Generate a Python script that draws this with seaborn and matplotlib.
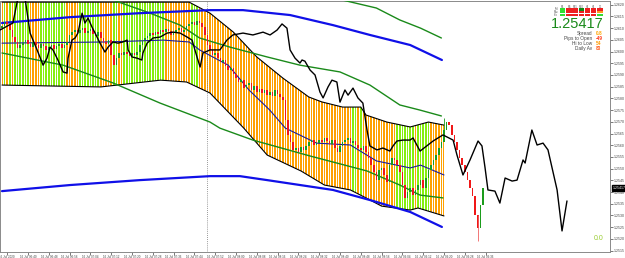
import numpy as np
import pandas as pd
import matplotlib
matplotlib.use("Agg")
import matplotlib.pyplot as plt
import matplotlib.transforms as mtransforms
from matplotlib.patches import Polygon, Rectangle
import seaborn as sns

sns.set_theme(style="white")
plt.rcParams['font.family'] = ['Liberation Sans', 'DejaVu Sans']

# ---------------- data ----------------
first_open = 1.26100
close = [
    1.26109, 1.26126, 1.26118, 1.26092, 1.26062, 1.26041, 1.26015, 1.26028, 1.26036, 1.26049,
    1.26032, 1.26019, 1.26041, 1.26028, 1.26015, 1.26032, 1.26024, 1.26007, 1.26019, 1.26028,
    1.26011, 1.26024, 1.26032, 1.26015, 1.26028, 1.26041, 1.26071, 1.26083, 1.26092, 1.26079,
    1.26092, 1.26100, 1.26079, 1.26088, 1.26096, 1.26075, 1.26066, 1.26083, 1.26058, 1.26041,
    1.26032, 1.26049, 1.25985, 1.25942, 1.25972, 1.25994, 1.25985, 1.25998, 1.25989, 1.25981,
    1.25994, 1.25985, 1.25998, 1.26028, 1.26049, 1.26058, 1.26066, 1.26079, 1.26071, 1.26083,
    1.26075, 1.26092, 1.26083, 1.26096, 1.26088, 1.26071, 1.26079, 1.26092, 1.26100, 1.26083,
    1.26092, 1.26109, 1.26118, 1.26126, 1.26113, 1.26130, 1.26122, 1.26105, 1.26071, 1.26028,
    1.26007, 1.25985, 1.25994, 1.25972, 1.25955, 1.25964, 1.25938, 1.25921, 1.25930, 1.25904,
    1.25887, 1.25870, 1.25878, 1.25844, 1.25857, 1.25866, 1.25836, 1.25853, 1.25827, 1.25840,
    1.25823, 1.25836, 1.25814, 1.25827, 1.25810, 1.25836, 1.25819, 1.25806, 1.25793, 1.25708,
    1.25644, 1.25614, 1.25580, 1.25588, 1.25571, 1.25592, 1.25580, 1.25597, 1.25614, 1.25622,
    1.25601, 1.25609, 1.25622, 1.25614, 1.25631, 1.25618, 1.25605, 1.25622, 1.25588, 1.25571,
    1.25597, 1.25614, 1.25622, 1.25631, 1.25609, 1.25618, 1.25601, 1.25588, 1.25580, 1.25597,
    1.25571, 1.25545, 1.25515, 1.25486, 1.25451, 1.25494, 1.25503, 1.25473, 1.25443, 1.25515,
    1.25545, 1.25537, 1.25515, 1.25486, 1.25430, 1.25375, 1.25400, 1.25417, 1.25387, 1.25409,
    1.25430, 1.25451, 1.25417, 1.25460, 1.25494, 1.25515, 1.25537, 1.25558, 1.25588, 1.25614,
    1.25665, 1.25699, 1.25686, 1.25644, 1.25614, 1.25580, 1.25545, 1.25515, 1.25486, 1.25451,
    1.25417, 1.25383, 1.25302, 1.25246, 1.25345, 1.25417,
]
wick_bar = [170, 183]
wick_high = [1.25716, 1.25302]
wick_low = [1.25665, 1.25191]

band_top_x = [0, 72, 80, 89, 98, 108, 118, 123, 131, 138, 140, 148, 157, 164, 170]
band_top_y = [1.26211, 1.26211, 1.26164, 1.26083, 1.25977, 1.25887, 1.25806, 1.25785,
              1.25763, 1.25763, 1.25729, 1.25699, 1.25678, 1.25699, 1.25686]
band_bot_x = [0, 38, 61, 71, 80, 93, 102, 115, 124, 134, 140, 146, 157, 160, 170]
band_bot_y = [1.25857, 1.25849, 1.25878, 1.25870, 1.25823, 1.25673, 1.25558, 1.25490,
              1.25430, 1.25409, 1.25375, 1.25340, 1.25323, 1.25332, 1.25298]

center_x = [0, 40, 62, 72, 76, 87, 95, 103, 109, 121, 134, 144, 157, 161, 170]
center_y = [1.26036, 1.26041, 1.26049, 1.26041, 1.26007, 1.25942, 1.25836, 1.25750,
            1.25673, 1.25609, 1.25601, 1.25533, 1.25503, 1.25515, 1.25473]

green_hi_x = [122.3, 131, 144, 153, 161, 169]
green_hi_y = [1.26233, 1.26220, 1.26186, 1.26135, 1.26100, 1.26058]
green_mid_x = [38, 42.7, 57, 68.5, 76, 87.7, 102, 114.6, 130, 141.5, 153, 160.8, 169]
green_mid_y = [1.26240, 1.26220, 1.26164, 1.26113, 1.26058, 1.26019, 1.25977, 1.25942,
               1.25913, 1.25857, 1.25772, 1.25750, 1.25725]
green_lo_x = [0, 23.5, 42.7, 60.8, 80, 83.8, 96.5, 118.5, 140.4, 153, 160.8, 169.6]
green_lo_y = [1.25994, 1.25942, 1.25866, 1.25780, 1.25699, 1.25673, 1.25622, 1.25554,
              1.25490, 1.25430, 1.25387, 1.25375]

blue_hi_x = [0, 26.2, 53, 80, 92.7, 110.8, 127.3, 141.5, 157, 169.2]
blue_hi_y = [1.26122, 1.26147, 1.26164, 1.26177, 1.26177, 1.26156, 1.26113, 1.26071,
             1.26028, 1.25964]
blue_lo_x = [0, 26.2, 53, 80, 91.5, 102, 127.3, 141.5, 157, 169.2]
blue_lo_y = [1.25404, 1.25430, 1.25451, 1.25468, 1.25468, 1.25451, 1.25409, 1.25366,
             1.25315, 1.25251]

black_x = [-0.8, 4.2, 6.2, 8.8, 10.8, 13.5, 15.8, 17.3, 18.5, 19.6, 21.5, 23.5, 25, 25.4,
           26.9, 28.1, 29.2, 30.8, 31.9, 33.1, 34.6, 35.8, 37.7, 39.6, 40.8, 42.7, 44.6,
           46.5, 48.1, 48.5, 50, 51.9, 53.8, 54.2, 55.8, 58.1, 60.8, 63.5, 65.8, 68.5, 71.2,
           73.1, 75, 76.2, 77.3, 80, 83.8, 86.5, 88.8, 92.7, 96.5, 100.4, 103.1, 105.8,
           107.7, 109.6, 110.8, 112.7, 114.6, 115.4, 116.5, 118.5, 120.4, 122.3, 123.5,
           125.4, 126.9, 128.8, 130, 131.9, 133.1, 135, 136.9, 138.8, 140.4, 141.5, 144.2,
           146.5, 149.2, 150.4, 151.9, 154.2, 156.9, 158.1, 160.8, 165.8, 169.6, 173.5,
           175, 177.3, 180, 183.1, 184.6, 185.8, 186.9, 189.6, 191.5, 193.5, 196.2, 198.1,
           200.4, 201.2, 203.8, 205.8, 208.1, 210, 213.5, 215.4, 217.3]
black_y = [1.26092, 1.26122, 1.26233, 1.26233, 1.26079, 1.26007, 1.25942, 1.25972, 1.26019,
           1.26007, 1.25964, 1.25913, 1.25908, 1.25972, 1.26049, 1.26058, 1.26079, 1.26164,
           1.26122, 1.26143, 1.26105, 1.26079, 1.26036, 1.25998, 1.26019, 1.26041, 1.26036,
           1.26041, 1.26049, 1.26007, 1.25977, 1.25972, 1.25964, 1.25994, 1.26036, 1.26058,
           1.26062, 1.26079, 1.26083, 1.26079, 1.26062, 1.26049, 1.25977, 1.25934, 1.25994,
           1.26007, 1.26007, 1.26049, 1.26071, 1.26079, 1.26071, 1.26083, 1.26071, 1.26092,
           1.26118, 1.26100, 1.26007, 1.25972, 1.25951, 1.25964, 1.25959, 1.25921, 1.25900,
           1.25827, 1.25802, 1.25849, 1.25878, 1.25870, 1.25784, 1.25836, 1.25814, 1.25844,
           1.25802, 1.25780, 1.25665, 1.25597, 1.25580, 1.25588, 1.25575, 1.25597, 1.25618,
           1.25622, 1.25622, 1.25631, 1.25575, 1.25618, 1.25644, 1.25622, 1.25558, 1.25473,
           1.25537, 1.25618, 1.25597, 1.25503, 1.25409, 1.25404, 1.25353, 1.25460, 1.25447,
           1.25451, 1.25537, 1.25524, 1.25665, 1.25601, 1.25609, 1.25580, 1.25409, 1.25234,
           1.25362]

stripe_runs = [("o", 1), ("g", 1), ("o", 1), ("g", 1), ("o", 1), ("g", 6), ("o", 4),
               ("g", 10), ("o", 5), ("g", 8), ("o", 5), ("g", 2), ("o", 2), ("g", 3),
               ("g", 13), ("o", 10), ("g", 3), ("o", 59), ("g", 2), ("o", 1), ("g", 1),
               ("o", 13), ("g", 7), ("o", 1), ("g", 5), ("o", 6)]

price_ticks = [1.2515, 1.2520, 1.2525, 1.2530, 1.2535, 1.2540, 1.2545, 1.2550, 1.2555,
               1.2560, 1.2565, 1.2570, 1.2575, 1.2580, 1.2585, 1.2590, 1.2595, 1.2600,
               1.2605, 1.2610, 1.2615, 1.2620]
time_ticks = [2, 10, 18, 26, 34, 42, 50, 58, 66, 74, 82, 90, 98, 106, 114, 122, 130, 138,
              146, 154, 162, 170, 178, 186]
time_labels = ["16 Jul 2020", "16 Jul 06:40", "16 Jul 06:48", "16 Jul 06:56", "16 Jul 07:04",
               "16 Jul 07:12", "16 Jul 07:20", "16 Jul 07:28", "16 Jul 07:36", "16 Jul 07:44",
               "16 Jul 07:52", "16 Jul 08:00", "16 Jul 08:08", "16 Jul 08:16", "16 Jul 08:24",
               "16 Jul 08:32", "16 Jul 08:40", "16 Jul 08:48", "16 Jul 08:56", "16 Jul 09:04",
               "16 Jul 09:12", "16 Jul 09:20", "16 Jul 09:28", "16 Jul 09:36"]
separator_bar = 78.8
last_price = 1.25417

panel_cols = ["M1", "M5", "M15", "M30", "H1", "H4", "D1"]
panel_rows = ["Trd", "Mac", "Sto"]
panel_states = [["g", "r", "r", "d", "r", "r", "r"],
                ["g", "r", "r", "r", "r", "r", "o"],
                ["g", "r", "r", "r", "r", "r", "g"]]
info_labels = ["Spread", "Pips to Open", "Hi to Low", "Daily Av"]
info_values = ["0.8", "-49", "54", "83"]
info_colors = ["#ffa500", "#ff3a1a", "#ff9a00", "#ff5a1a"]

# ---------------- figure ----------------
W, H = 625, 258
fig = plt.figure(figsize=(W / 100, H / 100), dpi=100)
fig.patch.set_facecolor("white")
ax = fig.add_axes([0.0, 6 / H, 610 / W, 251 / H])
ax.set_facecolor("white")
ax.set_xlim(-0.77, 233.85)
ax.set_ylim(1.25144, 1.26216)

# band stripes clipped to envelope polygon
verts = list(zip(band_top_x, band_top_y)) + list(zip(band_bot_x[::-1], band_bot_y[::-1]))
poly = Polygon(verts, closed=True, transform=ax.transData, facecolor="none",
               edgecolor="none")
ax.add_patch(poly)
cmap = {"o": "#ffa100", "g": "#86ee10"}
stripe_colors = []
for c, n in stripe_runs:
    stripe_colors += [cmap[c]] * n
nstripe = len(stripe_colors)
ymin, ymax = ax.get_ylim()
bars = ax.bar(np.arange(nstripe), ymax - ymin, bottom=ymin, width=0.62,
              color=stripe_colors, linewidth=0, zorder=1)
for b in bars:
    b.set_clip_path(poly)

# lines via seaborn
def sline(x, y, color, lw, z):
    sns.lineplot(x=x, y=y, ax=ax, color=color, linewidth=lw, sort=False,
                 estimator=None, zorder=z, legend=False)

sline(band_top_x, band_top_y, "black", 0.8, 3)
sline(band_bot_x, band_bot_y, "black", 0.8, 3)
sline(center_x, center_y, "#1c1c9c", 0.8, 3)
sline(green_hi_x, green_hi_y, "#1a8a1a", 1.0, 3)
sline(green_mid_x, green_mid_y, "#1a8a1a", 1.0, 3)
sline(green_lo_x, green_lo_y, "#1a8a1a", 1.0, 3)
sline(blue_hi_x, blue_hi_y, "#1010e8", 1.6, 3)
sline(blue_lo_x, blue_lo_y, "#1010e8", 1.6, 3)

# candles
opens = [first_open] + close[:-1]
cx = np.arange(len(close))
body_lo = np.minimum(opens, close)
body_h = np.abs(np.array(close) - np.array(opens))
ccol = ["#1c9c1c" if c >= o else "#f01818" for o, c in zip(opens, close)]
ax.bar(cx, np.maximum(body_h, 0.00002), bottom=body_lo, width=0.6, color=ccol,
       linewidth=0, zorder=4)
ax.vlines(wick_bar, wick_low, wick_high, colors=["#1c9c1c", "#f06060"], linewidth=0.6,
          zorder=4)

# black overlay line
sline(black_x, black_y, "black", 1.0, 5)

# period separator
ax.axvline(separator_bar, color="#777777", linestyle=(0, (1, 1.5)), linewidth=0.6, zorder=2)

# axes styling
for s in ax.spines.values():
    s.set_color("#8a8a8a")
    s.set_linewidth(0.7)
ax.yaxis.tick_right()
ax.set_yticks(price_ticks)
ax.set_yticklabels([f"{p:.4f}" for p in price_ticks])
ax.set_xticks(time_ticks)
ax.set_xticklabels(time_labels)
ax.tick_params(axis="y", labelsize=2.5, length=2, width=0.5, pad=1, colors="#444444",
               right=True, left=False)
ax.tick_params(axis="x", labelsize=2.2, length=2, width=0.5, pad=0.5, colors="#444444",
               bottom=True)
ax.set_xlabel("")
ax.set_ylabel("")
ax.grid(False)

# current price label
trans = mtransforms.blended_transform_factory(ax.transAxes, ax.transData)
ax.text(1.004, last_price, f"{last_price:.5f}", transform=trans, fontsize=2.5,
        color="white", va="center", ha="left",
        bbox=dict(boxstyle="square,pad=0.25", fc="black", ec="black"), zorder=10,
        clip_on=False)

# ---------------- info panel (figure pixel coords) ----------------
def fx(px):
    return px / W

def fy(py):
    return 1 - py / H

state_col = {"g": "#33dd33", "r": "#ee2020", "d": "#118811", "o": "#ff9a20"}
for j, name in enumerate(panel_cols):
    x0 = 560 + j * 6.2
    fig.text(fx(x0 + 2.8), fy(6.5), name, fontsize=1.8, color="#555555", ha="center",
             va="center")
    for i in range(len(panel_rows)):
        y0 = 8.5 + i * 2.8
        fig.add_artist(Rectangle((fx(x0), fy(y0 + 2.0)), 5.4 / W, 2.0 / H,
                                 transform=fig.transFigure,
                                 facecolor=state_col[panel_states[i][j]], edgecolor="none"))
for i, name in enumerate(panel_rows):
    fig.text(fx(558), fy(9.5 + i * 2.8), name, fontsize=1.8, color="#555555", ha="right",
             va="center")

fig.text(fx(604), fy(24), f"{last_price:.5f}", fontsize=10.5, color="#1a8a1a",
         ha="right", va="center")
for i, (lab, val, vc) in enumerate(zip(info_labels, info_values, info_colors)):
    yy = 33.5 + i * 5.0
    fig.text(fx(592), fy(yy), lab, fontsize=3.4, color="#444444", ha="right", va="center")
    fig.text(fx(596), fy(yy), val, fontsize=3.4, color=vc, ha="left", va="center",
             fontweight="bold")

fig.text(fx(599), fy(239), "0.0", fontsize=5, color="#9acd32", ha="center", va="center")

fig.savefig("out.png", dpi=100, facecolor="white")
